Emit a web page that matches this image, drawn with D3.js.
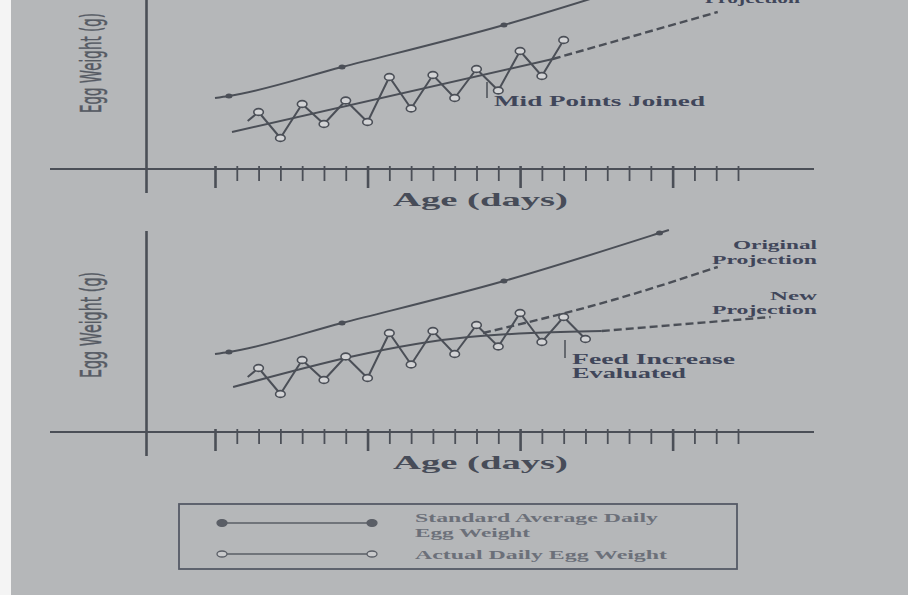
<!DOCTYPE html>
<html>
<head>
<meta charset="utf-8">
<script src="https://cdn.jsdelivr.net/npm/d3@7"></script>
<style>
  html, body { margin: 0; padding: 0; background: #b5b7b9; }
  svg { display: block; }
</style>
</head>
<body>
<svg id="chart" width="908" height="595"></svg>
<script>
// ---- data (age in days, egg weight in relative units) ----
const tickDays = d3.range(0, 25);              // one tick per day, long tick each week
const leadIn = [1.5, 22];                      // unmarked start of the daily line
const actualDays = d3.range(2, 18);            // days with a recorded egg weight
const actualEarly = [25.6, 15.2, 28.8, 20.8, 30.2, 21.6, 39.6, 27.0, 40.4, 31.2, 42.8, 34.2];
const actualLateA = [50.0, 40.0, 54.4];        // panel A, days 14-16
const actualLateB = [47.6, 36.0, 46.0, 37.2];  // panel B, days 14-17

const standardDays = [0, 0.64, 5.83, 13.26, 20.4, 20.83];
const standardVals = [31.2, 32.0, 43.6, 60.4, 79.6, 80.8];
const standardDotted = [false, true, true, true, true, false];

const midA = [[0.78, 17.6], [15.5, 46.8]];
const projA = [[15.5, 46.8], [23.07, 65.6]];
const midB = [[0.83, 18.0], [11.65, 38.0], [14.5, 39.6], [17.75, 40.4]];
const origProjB = [[12.3, 39.6], [18.26, 52.8], [23.07, 66.0]];
const newProjB = [[17.75, 40.4], [25.5, 46.0]];

const legendItems = [
  { lines: ["Standard Average Daily", "Egg Weight"], filled: true },
  { lines: ["Actual Daily Egg Weight"], filled: false }
];

// ---- styles ----
const ink = "#4b4f57";
const labelInk = "#474c58";
const serif = "'Liberation Serif', 'DejaVu Serif', serif";

const svg = d3.select("#chart");
svg.append("rect").attr("x", 0).attr("y", 0).attr("width", 908).attr("height", 595).attr("fill", "#b5b7b9");
svg.append("rect").attr("x", 0).attr("y", 0).attr("width", 11).attr("height", 595).attr("fill", "#f4f4f4");

const x = d3.scaleLinear().domain([0, 24]).range([215, 738]);

function series(days, vals) { return days.map((d, i) => [d, vals[i]]); }

function drawPanel(g, cfg) {
  const y = d3.scaleLinear().domain([0, 100]).range([cfg.base, cfg.base - 250]);
  const line = d3.line().x(d => x(d[0])).y(d => y(d[1]));
  const smooth = d3.line().x(d => x(d[0])).y(d => y(d[1])).curve(d3.curveMonotoneX);

  // axes
  g.append("line").attr("x1", 146.5).attr("x2", 146.5).attr("y1", cfg.yTop).attr("y2", cfg.axisY + 24)
    .attr("stroke", ink).attr("stroke-width", 2.6);
  g.append("line").attr("x1", 50).attr("x2", 814).attr("y1", cfg.axisY).attr("y2", cfg.axisY)
    .attr("stroke", ink).attr("stroke-width", 2);

  const axis = d3.axisBottom(x).tickValues(tickDays).tickFormat("").tickSizeInner(12).tickSizeOuter(0);
  const ax = g.append("g").attr("transform", `translate(0,${cfg.axisY})`).call(axis);
  ax.select(".domain").remove();
  ax.selectAll(".tick line")
    .attr("y1", -3)
    .attr("y2", d => d % 7 === 0 ? 19 : 12)
    .attr("stroke", ink)
    .attr("stroke-width", d => d % 7 === 0 ? 2.6 : 1.8);

  g.append("text").attr("x", 393).attr("y", cfg.axisY + 37)
    .attr("textLength", 175).attr("lengthAdjust", "spacingAndGlyphs")
    .attr("font-family", serif).attr("font-weight", "bold").attr("font-size", 19)
    .attr("fill", labelInk).text("Age (days)");

  g.append("text")
    .attr("transform", `translate(101,${cfg.labelY}) rotate(-90)`)
    .attr("text-anchor", "middle")
    .attr("textLength", cfg.labelLen).attr("lengthAdjust", "spacingAndGlyphs")
    .attr("font-family", "'DejaVu Sans', sans-serif").attr("font-size", 28)
    .attr("fill", "#555a63").attr("stroke", "#555a63").attr("stroke-width", 0.5)
    .text("Egg Weight (g)");

  // standard curve
  const std = series(standardDays, standardVals);
  g.append("path").attr("d", smooth(std)).attr("fill", "none").attr("stroke", ink).attr("stroke-width", 2);
  g.selectAll(".std-dot").data(std.filter((d, i) => standardDotted[i])).join("ellipse")
    .attr("cx", d => x(d[0])).attr("cy", d => y(d[1])).attr("rx", 3.5).attr("ry", 2.5).attr("fill", ink);

  // trend lines
  cfg.solid.forEach(s => g.append("path").attr("d", (s.length > 2 ? smooth : line)(s))
    .attr("fill", "none").attr("stroke", ink).attr("stroke-width", 2));
  cfg.dashed.forEach(s => g.append("path").attr("d", (s.length > 2 ? smooth : line)(s))
    .attr("fill", "none").attr("stroke", ink).attr("stroke-width", 2.4).attr("stroke-dasharray", "8,4"));

  // actual daily weights
  const act = series(actualDays.slice(0, cfg.actual.length), cfg.actual);
  g.append("path").attr("d", line([leadIn, ...act])).attr("fill", "none").attr("stroke", ink).attr("stroke-width", 2);
  g.selectAll(".act-dot").data(act).join("ellipse")
    .attr("cx", d => x(d[0])).attr("cy", d => y(d[1])).attr("rx", 4.8).attr("ry", 3.4)
    .attr("fill", "#d2d3d5").attr("stroke", ink).attr("stroke-width", 1.6);

  // annotations
  g.append("line").attr("x1", cfg.lead.x).attr("x2", cfg.lead.x).attr("y1", cfg.lead.y1).attr("y2", cfg.lead.y2)
    .attr("stroke", ink).attr("stroke-width", 1.5);
  cfg.notes.forEach(n => g.append("text").attr("x", n.x).attr("y", n.y)
    .attr("text-anchor", n.anchor || "start")
    .attr("textLength", n.w).attr("lengthAdjust", "spacingAndGlyphs")
    .attr("font-family", serif).attr("font-weight", "bold").attr("font-size", n.size)
    .attr("fill", "#40465a").text(n.t));
}

drawPanel(svg.append("g"), {
  base: 176, axisY: 169, yTop: -2, labelY: 63, labelLen: 100,
  actual: actualEarly.concat(actualLateA),
  solid: [midA], dashed: [projA],
  lead: { x: 487, y1: 82, y2: 98 },
  notes: [
    { t: "Mid Points Joined", x: 494, y: 106, w: 211, size: 15 },
    { t: "Projection", x: 800, y: 3, w: 95, size: 14, anchor: "end" }
  ]
});

drawPanel(svg.append("g"), {
  base: 432, axisY: 432, yTop: 231, labelY: 325, labelLen: 106,
  actual: actualEarly.concat(actualLateB),
  solid: [midB], dashed: [origProjB, newProjB],
  lead: { x: 565, y1: 340, y2: 358 },
  notes: [
    { t: "Feed Increase", x: 572, y: 364, w: 163, size: 14 },
    { t: "Evaluated", x: 572, y: 378, w: 114, size: 14 },
    { t: "Original", x: 817, y: 249, w: 84, size: 12, anchor: "end" },
    { t: "Projection", x: 817, y: 264, w: 105, size: 12, anchor: "end" },
    { t: "New", x: 817, y: 300, w: 47, size: 12, anchor: "end" },
    { t: "Projection", x: 817, y: 314, w: 105, size: 12, anchor: "end" }
  ]
});

// ---- legend ----
const lg = svg.append("g");
lg.append("rect").attr("x", 179).attr("y", 504).attr("width", 558).attr("height", 65)
  .attr("fill", "none").attr("stroke", "#555a66").attr("stroke-width", 1.8);
const rowY = [523, 554];
const textRows = [[522, 537], [559]];
const textW = [[243, 115], [252]];
legendItems.forEach((item, i) => {
  lg.append("line").attr("x1", 222).attr("x2", 372).attr("y1", rowY[i]).attr("y2", rowY[i])
    .attr("stroke", "#5a5e66").attr("stroke-width", 1.6);
  [222, 372].forEach(cx => lg.append("ellipse").attr("cx", cx).attr("cy", rowY[i])
    .attr("rx", 5).attr("ry", item.filled ? 3.4 : 3)
    .attr("fill", item.filled ? "#5a5e66" : "#c9cacc")
    .attr("stroke", "#5a5e66").attr("stroke-width", 1.3));
  item.lines.forEach((t, j) => lg.append("text").attr("x", 415).attr("y", textRows[i][j])
    .attr("textLength", textW[i][j]).attr("lengthAdjust", "spacingAndGlyphs")
    .attr("font-family", serif).attr("font-size", 13).attr("font-weight", "bold")
    .attr("fill", "#6c7079").text(t));
});
</script>
</body>
</html>
